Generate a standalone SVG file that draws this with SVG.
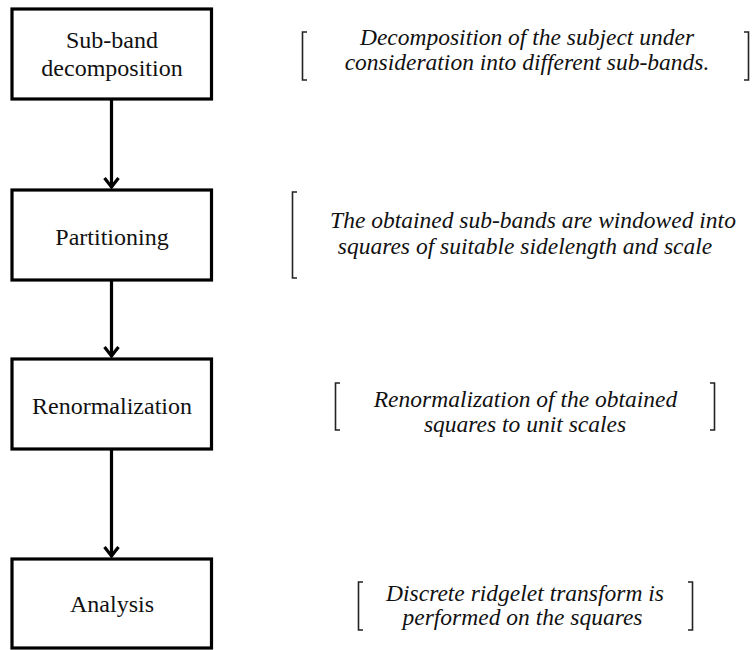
<svg xmlns="http://www.w3.org/2000/svg" width="753" height="650" viewBox="0 0 753 650">
<style>
.box{fill:#fff;stroke:#000;stroke-width:3.2}
.lbl{font-family:"Liberation Serif","Noto Serif","DejaVu Serif",FreeSerif,Tinos,"Times New Roman",Times,Georgia,serif;font-size:24px;fill:#111;text-anchor:middle}
.note{font-family:"Liberation Serif","Noto Serif","DejaVu Serif",FreeSerif,Tinos,"Times New Roman",Times,Georgia,serif;font-size:23.5px;font-style:italic;fill:#111;text-anchor:middle}
.brk{fill:none;stroke:#222;stroke-width:1.6}
.con{fill:none;stroke:#000;stroke-width:3.2}
</style>
<defs>
<marker id="arr" markerUnits="userSpaceOnUse" markerWidth="24" markerHeight="24" viewBox="-12 -12 24 24" refX="0" refY="0" orient="auto">
<path d="M-10,-7 L-1,0 L-10,7" fill="none" stroke="#000" stroke-width="3.2"/>
</marker>
</defs>
<rect width="753" height="650" fill="#fff"/>
<g id="connectors">
<line class="con" x1="111.5" y1="99" x2="111.5" y2="188" marker-end="url(#arr)"/>
<line class="con" x1="111.5" y1="280" x2="111.5" y2="357" marker-end="url(#arr)"/>
<line class="con" x1="111.5" y1="449" x2="111.5" y2="557" marker-end="url(#arr)"/>
</g>
<g id="node1">
<rect class="box" x="12" y="9" width="199.5" height="90"/>
<text class="lbl" x="112" y="48">Sub-band</text>
<text class="lbl" x="112" y="76">decomposition</text>
</g>
<g id="node2">
<rect class="box" x="12" y="190" width="199.5" height="90"/>
<text class="lbl" x="112" y="245">Partitioning</text>
</g>
<g id="node3">
<rect class="box" x="12" y="359" width="199.5" height="90"/>
<text class="lbl" x="112" y="414">Renormalization</text>
</g>
<g id="node4">
<rect class="box" x="12" y="559" width="199.5" height="89"/>
<text class="lbl" x="112" y="612">Analysis</text>
</g>
<g id="note1">
<path class="brk" d="M307,32 H302.5 V80 H307"/>
<path class="brk" d="M744,32 H748.5 V80 H744"/>
<text class="note" x="527" y="45">Decomposition of the subject under</text>
<text class="note" x="527" y="70">consideration into different sub-bands.</text>
</g>
<g id="note2">
<path class="brk" d="M297,192 H292.5 V278 H297"/>
<text class="note" x="533" y="228">The obtained sub-bands are windowed into</text>
<text class="note" x="525" y="254">squares of suitable sidelength and scale</text>
</g>
<g id="note3">
<path class="brk" d="M340,383 H335.5 V430 H340"/>
<path class="brk" d="M710,383 H714.5 V430 H710"/>
<text class="note" x="525.5" y="407">Renormalization of the obtained</text>
<text class="note" x="525" y="432">squares to unit scales</text>
</g>
<g id="note4">
<path class="brk" d="M363,582 H358.5 V630 H363"/>
<path class="brk" d="M688,582 H692.5 V630 H688"/>
<text class="note" x="525" y="601">Discrete ridgelet transform is</text>
<text class="note" x="522.5" y="625">performed on the squares</text>
</g>
</svg>
